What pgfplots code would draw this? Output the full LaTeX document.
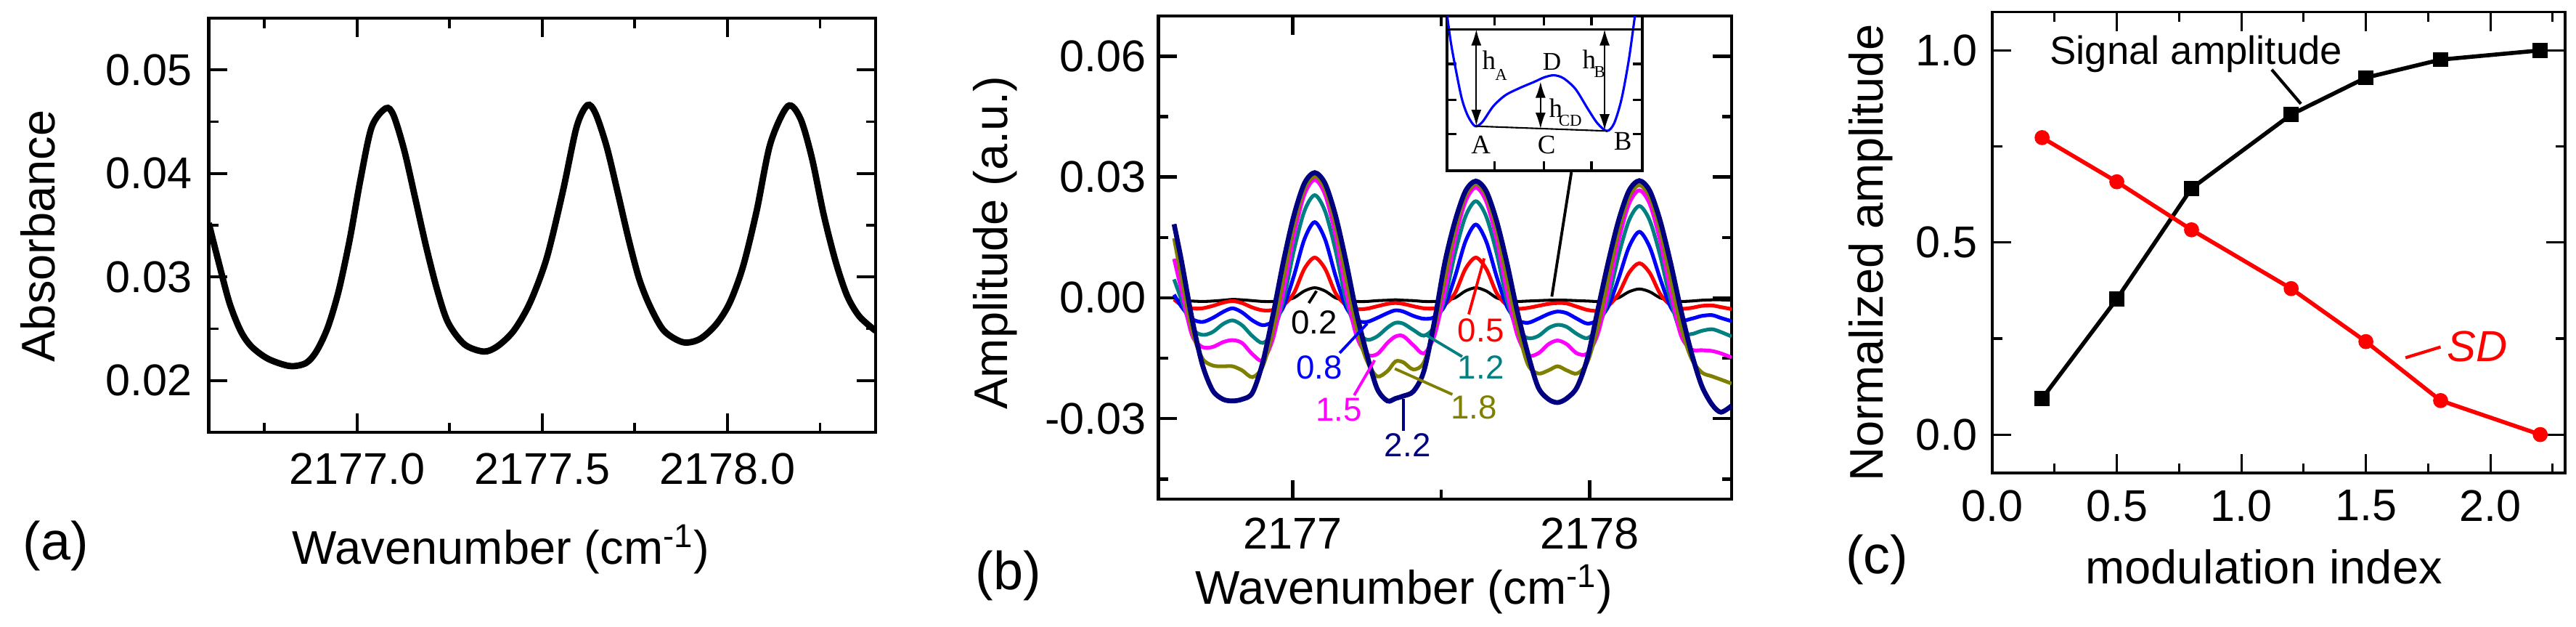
\documentclass[border=0pt]{standalone}
\usepackage{pgfplots}
\pgfplotsset{compat=1.18}
\usepackage{pgfplotstable}
\usepackage{fontspec}
\setmainfont{Liberation Sans}
\newfontfamily\timesfont{Liberation Serif}
\usetikzlibrary{arrows.meta}
\definecolor{c02}{RGB}{0,0,0}
\definecolor{c05}{RGB}{255,0,0}
\definecolor{c08}{RGB}{0,0,255}
\definecolor{c12}{RGB}{0,128,128}
\definecolor{c15}{RGB}{255,0,255}
\definecolor{c18}{RGB}{128,128,0}
\definecolor{c22}{RGB}{0,0,128}

\pgfplotstableread{
x a
2176.600 0.0352
2176.627 0.0314
2176.656 0.0275
2176.686 0.0248
2176.715 0.0233
2176.760 0.0221
2176.819 0.0214
2176.863 0.0217
2176.892 0.0229
2176.922 0.0252
2176.951 0.0287
2176.981 0.0337
2177.010 0.0395
2177.040 0.0445
2177.078 0.0463
2177.099 0.0456
2177.128 0.0422
2177.158 0.0375
2177.187 0.0329
2177.217 0.0287
2177.246 0.0256
2177.290 0.0235
2177.342 0.0228
2177.379 0.0233
2177.423 0.0248
2177.467 0.0275
2177.512 0.0318
2177.556 0.0383
2177.593 0.0445
2177.622 0.0466
2177.644 0.0458
2177.674 0.0426
2177.703 0.0383
2177.733 0.0337
2177.762 0.0298
2177.792 0.0271
2177.829 0.0248
2177.880 0.0237
2177.925 0.0240
2177.969 0.0254
2178.006 0.0275
2178.042 0.0310
2178.079 0.0364
2178.116 0.0429
2178.163 0.0465
2178.197 0.0453
2178.228 0.0415
2178.260 0.0360
2178.292 0.0315
2178.323 0.0282
2178.356 0.0262
2178.400 0.0248
}\absdata

\pgfplotstableread{
x k02 k05 k08 k12 k15 k18 k22
2176.600 -0.0001 -0.0004 0.0008 0.0046 0.0097 0.0148 0.0183
2176.625 -0.0007 -0.0018 -0.0022 -0.0005 0.0018 0.0050 0.0092
2176.660 -0.0008 -0.0026 -0.0052 -0.0075 -0.0092 -0.0080 -0.0050
2176.695 -0.0009 -0.0026 -0.0060 -0.0092 -0.0122 -0.0150 -0.0165
2176.730 -0.0008 -0.0020 -0.0050 -0.0085 -0.0122 -0.0168 -0.0230
2176.765 -0.0006 -0.0012 -0.0035 -0.0065 -0.0110 -0.0170 -0.0252
2176.797 -0.0004 -0.0008 -0.0026 -0.0056 -0.0105 -0.0170 -0.0256
2176.829 -0.0005 -0.0013 -0.0036 -0.0068 -0.0112 -0.0180 -0.0252
2176.864 -0.0007 -0.0024 -0.0056 -0.0095 -0.0140 -0.0197 -0.0236
2176.899 -0.0009 -0.0031 -0.0068 -0.0112 -0.0155 -0.0170 -0.0160
2176.934 -0.0009 -0.0030 -0.0058 -0.0085 -0.0100 -0.0080 -0.0040
2176.969 -0.0007 -0.0018 -0.0022 -0.0005 0.0018 0.0050 0.0092
2177.004 0.0000 0.0012 0.0055 0.0118 0.0155 0.0180 0.0205
2177.039 0.0017 0.0072 0.0145 0.0215 0.0256 0.0270 0.0284
2177.074 0.0025 0.0100 0.0188 0.0255 0.0293 0.0302 0.0311
2177.109 0.0017 0.0072 0.0145 0.0215 0.0256 0.0270 0.0284
2177.144 0.0000 0.0012 0.0055 0.0118 0.0155 0.0180 0.0205
2177.179 -0.0007 -0.0018 -0.0022 -0.0005 0.0018 0.0050 0.0092
2177.214 -0.0009 -0.0028 -0.0055 -0.0078 -0.0093 -0.0072 -0.0035
2177.249 -0.0009 -0.0027 -0.0060 -0.0104 -0.0140 -0.0155 -0.0138
2177.284 -0.0007 -0.0021 -0.0050 -0.0096 -0.0140 -0.0195 -0.0225
2177.319 -0.0006 -0.0015 -0.0038 -0.0074 -0.0112 -0.0182 -0.0256
2177.346 -0.0005 -0.0013 -0.0031 -0.0062 -0.0096 -0.0158 -0.0250
2177.372 -0.0006 -0.0015 -0.0034 -0.0064 -0.0095 -0.0160 -0.0244
2177.407 -0.0007 -0.0021 -0.0045 -0.0080 -0.0118 -0.0178 -0.0232
2177.442 -0.0009 -0.0026 -0.0052 -0.0094 -0.0138 -0.0160 -0.0182
2177.477 -0.0009 -0.0026 -0.0048 -0.0072 -0.0095 -0.0075 -0.0060
2177.512 -0.0007 -0.0017 -0.0020 -0.0004 0.0015 0.0046 0.0086
2177.547 0.0000 0.0012 0.0053 0.0111 0.0145 0.0169 0.0191
2177.582 0.0017 0.0072 0.0140 0.0202 0.0239 0.0253 0.0265
2177.617 0.0025 0.0100 0.0182 0.0240 0.0274 0.0283 0.0290
2177.652 0.0017 0.0072 0.0140 0.0202 0.0239 0.0253 0.0265
2177.687 0.0000 0.0012 0.0053 0.0111 0.0145 0.0169 0.0191
2177.722 -0.0007 -0.0018 -0.0022 -0.0006 0.0015 0.0046 0.0086
2177.757 -0.0009 -0.0027 -0.0055 -0.0078 -0.0093 -0.0072 -0.0035
2177.792 -0.0008 -0.0025 -0.0062 -0.0100 -0.0142 -0.0165 -0.0138
2177.827 -0.0007 -0.0020 -0.0052 -0.0095 -0.0138 -0.0188 -0.0222
2177.862 -0.0006 -0.0015 -0.0040 -0.0075 -0.0115 -0.0180 -0.0252
2177.8925 -0.0006 -0.0013 -0.0034 -0.0067 -0.0106 -0.0170 -0.0260
2177.923 -0.0006 -0.0014 -0.0038 -0.0072 -0.0115 -0.0180 -0.0250
2177.958 -0.0007 -0.0022 -0.0052 -0.0090 -0.0138 -0.0188 -0.0222
2177.993 -0.0008 -0.0030 -0.0064 -0.0100 -0.0138 -0.0160 -0.0150
2178.028 -0.0009 -0.0032 -0.0055 -0.0075 -0.0090 -0.0072 -0.0030
2178.063 -0.0007 -0.0020 -0.0022 -0.0005 0.0017 0.0047 0.0088
2178.098 0.0000 0.0010 0.0048 0.0105 0.0141 0.0167 0.0192
2178.133 0.0015 0.0062 0.0126 0.0192 0.0233 0.0250 0.0266
2178.168 0.0022 0.0086 0.0164 0.0228 0.0267 0.0280 0.0291
2178.203 0.0015 0.0062 0.0126 0.0192 0.0233 0.0250 0.0266
2178.238 0.0000 0.0010 0.0048 0.0105 0.0141 0.0167 0.0192
2178.273 -0.0007 -0.0018 -0.0022 -0.0005 0.0017 0.0047 0.0088
2178.308 -0.0009 -0.0027 -0.0055 -0.0085 -0.0093 -0.0072 -0.0030
2178.343 -0.0008 -0.0025 -0.0052 -0.0090 -0.0128 -0.0150 -0.0135
2178.378 -0.0006 -0.0020 -0.0045 -0.0082 -0.0130 -0.0185 -0.0218
2178.413 -0.0005 -0.0019 -0.0043 -0.0078 -0.0132 -0.0195 -0.0265
2178.443 -0.0005 -0.0023 -0.0050 -0.0085 -0.0138 -0.0203 -0.0284
2178.479 -0.0006 -0.0028 -0.0058 -0.0096 -0.0148 -0.0213 -0.0268
}\wmsdata

\pgfplotsset{
  panel/.style={
    scale only axis, anchor=south west,
    scaled ticks=false,
    tick align=inside,
    major tick length=2.6mm, minor tick length=1.35mm,
    tick label style={font=\fontsize{17.4}{20}\selectfont},
  },
}
\newcommand{\lblfont}{\fontsize{18.5}{22}\selectfont}

\begin{document}
\begin{tikzpicture}
\useasboundingbox (0,0) rectangle (354.8mm,86.2mm);

% ---------------- (a)
\begin{axis}[panel, at={(28.75mm,26.7mm)}, width=91.85mm, height=57mm,
  axis line style={line width=1.15pt}, tick style={line width=1.1pt, black},
  xmin=2176.6, xmax=2178.4, ymin=0.015, ymax=0.055,
  xtick={2177,2177.5,2178}, xticklabels={2177.0,2177.5,2178.0},
  minor xtick={2176.75,2177.25,2177.75,2178.25},
  ytick={0.02,0.03,0.04,0.05}, yticklabels={0.02,0.03,0.04,0.05},
  minor ytick={0.025,0.035,0.045},
  xticklabel style={yshift=-1.6mm}, yticklabel style={xshift=-1.1mm}]
\addplot[black, line width=2.5pt, smooth] table[x=x,y=a] {\absdata};
\end{axis}

% ---------------- (b)
\begin{axis}[panel, at={(159.54mm,17.5mm)}, width=78.96mm, height=66.5mm,
  axis line style={line width=1.4pt}, tick style={line width=1.3pt, black},
  xmin=2176.547, xmax=2178.479, ymin=-0.05, ymax=0.07,
  xtick={2177,2178}, xticklabels={2177,2178}, minor xtick={2177.5},
  ytick={-0.03,0,0.03,0.06}, yticklabels={-0.03,0.00,0.03,0.06},
  minor ytick={-0.045,-0.015,0.015,0.045},
  xticklabel style={yshift=-1.3mm}, yticklabel style={xshift=-0.4mm}]
\addplot[c02, line width=1.15pt, smooth] table[x=x,y=k02] {\wmsdata};
\addplot[c05, line width=1.45pt, smooth] table[x=x,y=k05] {\wmsdata};
\addplot[c08, line width=1.45pt, smooth] table[x=x,y=k08] {\wmsdata};
\addplot[c12, line width=1.45pt, smooth] table[x=x,y=k12] {\wmsdata};
\addplot[c15, line width=1.45pt, smooth] table[x=x,y=k15] {\wmsdata};
\addplot[c18, line width=1.45pt, smooth] table[x=x,y=k18] {\wmsdata};
\addplot[c22, line width=1.9pt, smooth] table[x=x,y=k22] {\wmsdata};
% labels
\draw[c02, line width=1.1pt] (axis cs:2177.054,-0.0013) -- (axis cs:2177.080,0.0017);
\node[text=c02, font=\fontsize{13}{15}\selectfont] at (axis cs:2177.072,-0.0061) {0.2};
\draw[c05, line width=1.1pt] (axis cs:2177.593,-0.0041) -- (axis cs:2177.645,0.0098);
\node[text=c05, font=\fontsize{13}{15}\selectfont] at (axis cs:2177.634,-0.0081) {0.5};
\draw[c08, line width=1.1pt] (axis cs:2177.158,-0.0137) -- (axis cs:2177.251,-0.0064);
\node[text=c08, font=\fontsize{13}{15}\selectfont] at (axis cs:2177.089,-0.0173) {0.8};
\draw[c12, line width=1.1pt] (axis cs:2177.571,-0.0146) -- (axis cs:2177.446,-0.0091);
\node[text=c12, font=\fontsize{13}{15}\selectfont] at (axis cs:2177.634,-0.0173) {1.2};
\draw[c15, line width=1.1pt] (axis cs:2177.207,-0.0242) -- (axis cs:2177.276,-0.0155);
\node[text=c15, font=\fontsize{13}{15}\selectfont] at (axis cs:2177.155,-0.0278) {1.5};
\draw[c18, line width=1.1pt] (axis cs:2177.538,-0.0240) -- (axis cs:2177.344,-0.0176);
\node[text=c18, font=\fontsize{13}{15}\selectfont] at (axis cs:2177.610,-0.0273) {1.8};
\draw[c22, line width=1.1pt] (axis cs:2177.372,-0.0330) -- (axis cs:2177.372,-0.0251);
\node[text=c22, font=\fontsize{13}{15}\selectfont] at (axis cs:2177.387,-0.0365) {2.2};
\draw[black, line width=1.1pt] (axis cs:2177.939,0.0312) -- (axis cs:2177.873,0.0003);
\end{axis}

% ---------------- inset
\begin{axis}[scale only axis, anchor=north west, at={(199.27mm,84.0mm)},
  width=26.9mm, height=21.3mm,
  xmin=0, xmax=10, ymin=0, ymax=10,
  scaled ticks=false,
  axis background/.style={fill=white},
  axis line style={line width=1.1pt}, tick style={line width=1pt, black},
  tick align=inside, major tick length=1.3mm,
  xtick={2.44,4.98,7.40}, ytick={2.36,4.57,6.9},
  xticklabels={,,}, yticklabels={,,}]
\addplot[c08, line width=0.9pt, smooth] coordinates {
(0.02,10.0) (0.21,8.27) (0.46,6.54) (0.77,4.65) (1.08,3.54) (1.45,2.88)
(1.82,3.15) (2.38,4.17) (3.0,4.88) (3.74,5.35) (4.49,5.75) (4.98,6.03)
(5.48,6.17) (5.97,5.98) (6.59,5.28) (7.21,4.02) (7.71,3.07) (8.20,2.57)
(8.57,3.07) (8.95,4.65) (9.32,7.17) (9.63,10.0)};
\addplot[black, line width=0.6pt] coordinates {(1.45,2.88) (8.20,2.57)};
\addplot[black, line width=0.6pt] coordinates {(0,9.13) (10,9.13)};
\draw[{Latex[length=2.2mm,width=1.4mm]}-{Latex[length=2.2mm,width=1.4mm]}, line width=0.5pt]
  (axis cs:1.51,9.13) -- (axis cs:1.51,2.91);
\draw[{Latex[length=2.2mm,width=1.4mm]}-{Latex[length=2.2mm,width=1.4mm]}, line width=0.5pt]
  (axis cs:8.08,9.13) -- (axis cs:8.08,2.62);
\draw[{Latex[length=2.2mm,width=1.4mm]}-{Latex[length=2.2mm,width=1.4mm]}, line width=0.5pt]
  (axis cs:4.80,5.75) -- (axis cs:4.80,2.72);
\node[font=\timesfont\fontsize{10.5}{12}\selectfont] at (axis cs:2.16,7.17) {h};
\node[font=\timesfont\fontsize{6.5}{8}\selectfont] at (axis cs:2.78,6.19) {A};
\node[font=\timesfont\fontsize{10.5}{12}\selectfont] at (axis cs:7.29,7.2) {h};
\node[font=\timesfont\fontsize{6.5}{8}\selectfont] at (axis cs:7.83,6.38) {B};
\node[font=\timesfont\fontsize{10.5}{12}\selectfont] at (axis cs:5.58,4.05) {h};
\node[font=\timesfont\fontsize{6.5}{8}\selectfont] at (axis cs:6.32,3.26) {CD};
\node[font=\timesfont\fontsize{10}{12}\selectfont] at (axis cs:5.38,7.04) {D};
\node[font=\timesfont\fontsize{10.5}{12}\selectfont] at (axis cs:1.75,1.69) {A};
\node[font=\timesfont\fontsize{10.5}{12}\selectfont] at (axis cs:5.11,1.69) {C};
\node[font=\timesfont\fontsize{10.5}{12}\selectfont] at (axis cs:9.01,1.89) {B};
\end{axis}

% ---------------- (c)
\begin{axis}[panel, at={(274.4mm,21.1mm)}, width=78.9mm, height=63.45mm,
  axis line style={line width=0.9pt}, tick style={line width=0.9pt, black},
  xmin=0, xmax=2.3, ymin=-0.1, ymax=1.1,
  xtick={0,0.5,1,1.5,2}, xticklabels={0.0,0.5,1.0,1.5,2.0},
  minor xtick={0.25,0.75,1.25,1.75,2.25},
  ytick={0,0.5,1}, yticklabels={0.0,0.5,1.0}, minor ytick={0.25,0.75},
  xticklabel style={yshift=-1.1mm}, yticklabel style={xshift=-0.8mm},
  clip=false]
\addplot[black, line width=1.6pt, mark=square*, mark size=0.75mm, mark options={solid}] coordinates {
(0.2,0.094) (0.5,0.353) (0.8,0.641) (1.2,0.833) (1.5,0.929) (1.8,0.976) (2.2,1.0)};
\addplot[red, line width=1.6pt, mark=*, mark size=0.75mm, mark options={solid}] coordinates {
(0.2,0.773) (0.5,0.658) (0.8,0.533) (1.2,0.380) (1.5,0.242) (1.8,0.0885) (2.2,0.0)};
\node[anchor=base west, font=\fontsize{15.5}{18}\selectfont] at (axis cs:0.195,0.963) {Signal amplitude};
\draw[black, line width=1.2pt] (axis cs:1.122,0.950) -- (axis cs:1.239,0.861);
\node[anchor=base west, text=red, font=\fontsize{17}{20}\selectfont\itshape] at (axis cs:1.79,0.19) {SD};
\draw[red, line width=1.2pt] (axis cs:1.659,0.200) -- (axis cs:1.800,0.228);
\end{axis}

% ---------------- outer labels
\node[rotate=90, anchor=base, font=\lblfont] at (7.5mm,53.7mm) {Absorbance};
\node[anchor=base, font=\lblfont] at (69mm,8.6mm) {Wavenumber (cm\textsuperscript{-1})};
\node[anchor=base, font=\fontsize{21}{25}\selectfont] at (7.7mm,9.2mm) {(a)};

\node[rotate=90, anchor=base, font=\lblfont] at (138.7mm,52.8mm) {Amplitude (a.u.)};
\node[anchor=base, font=\lblfont] at (193.4mm,3.1mm) {Wavenumber (cm\textsuperscript{-1})};
\node[anchor=base, font=\fontsize{21}{25}\selectfont] at (138.9mm,5.1mm) {(b)};

\node[rotate=90, anchor=base, font=\lblfont] at (259.3mm,51.4mm) {Normalized amplitude};
\node[anchor=base, font=\lblfont] at (311.8mm,5.9mm) {modulation index};
\node[anchor=base, font=\fontsize{21}{25}\selectfont] at (258.5mm,7.3mm) {(c)};
\end{tikzpicture}
\end{document}
